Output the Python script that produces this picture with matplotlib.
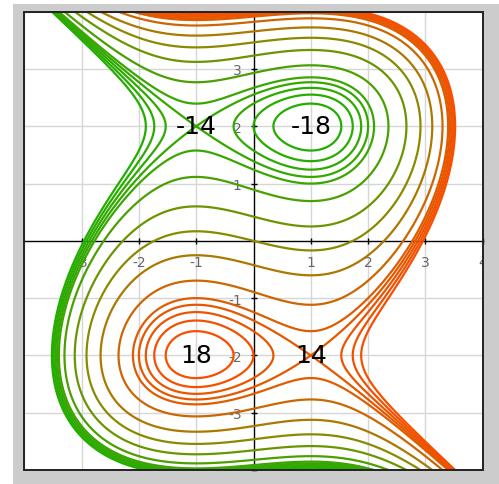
import matplotlib
matplotlib.use("Agg")
import matplotlib.pyplot as plt
from matplotlib.colors import LinearSegmentedColormap, Normalize
from matplotlib.patches import Rectangle
import numpy as np

plt.rcParams["axes.unicode_minus"] = False

# surface z = x^3 - 3x + y^3 - 12y, contour levels
x_lim = [-4, 4]
y_lim = [-4, 4]
levels = [-17, -16, -15, -14, -13, -10, -5, 0, 5, 10, 13, 14, 15, 16, 17]
x_ticks = [-3, -2, -1, 1, 2, 3, 4]
y_ticks = [-4, -3, -2, -1, 1, 2, 3, 4]

# critical points and their values
crit_x = [-1, 1, -1, 1]
crit_y = [2, 2, -2, -2]
crit_labels = ["-14", "-18", "18", "14"]


def surface(x, y):
    return x**3 - 3 * x + y**3 - 12 * y


xs = np.linspace(x_lim[0], x_lim[1], 600)
ys = np.linspace(y_lim[0], y_lim[1], 600)
X, Y = np.meshgrid(xs, ys)
Z = surface(X, Y)

cmap = LinearSegmentedColormap.from_list("gr", ["#1cb000", "#8a8a00", "#ff4a00"])
norm = Normalize(-18, 18)
line_colors = [cmap(norm(v)) for v in levels]

fig = plt.figure(figsize=(4.99, 4.85), dpi=100)
fig.patches.append(Rectangle((13 / 499, 0), 1, 480 / 485, transform=fig.transFigure,
                             facecolor="#cccccc", edgecolor="none", zorder=-10))
ax = fig.add_axes([24.3 / 499, 1 - 471 / 485, 458.4 / 499, 458.3 / 485])
ax.set_facecolor("white")
ax.set_axisbelow(True)

ax.contour(X, Y, Z, levels=levels, colors=line_colors, linewidths=1.6, zorder=2)

for cx, cy, lab in zip(crit_x, crit_y, crit_labels):
    ax.text(cx, cy, lab, ha="center", va="center", fontsize=18, color="black", zorder=4)

ax.set_xlim(x_lim)
ax.set_ylim(y_lim)
ax.set_xticks(x_ticks)
ax.set_yticks(y_ticks)
ax.set_xticks([-4], minor=True)
ax.grid(True, which="both", color="#d6d6d6", linewidth=1)
ax.tick_params(which="minor", length=0)

ax.spines["left"].set_position("zero")
ax.spines["bottom"].set_position("zero")
ax.spines["top"].set_visible(False)
ax.spines["right"].set_visible(False)
for s in ["left", "bottom"]:
    ax.spines[s].set_zorder(1)
    ax.spines[s].set_linewidth(1)
ax.tick_params(which="major", direction="inout", length=5, width=1, labelsize=10,
               labelcolor="#666666")
ax.tick_params(axis="x", pad=8)
ax.tick_params(axis="y", pad=6)

fig.canvas.draw()
for t in ax.get_xticklabels() + ax.get_yticklabels():
    t.set_clip_box(ax.bbox)
    t.set_clip_on(True)

ax.add_patch(Rectangle((0, 0), 1, 1, transform=ax.transAxes, fill=False,
                       edgecolor="#222222", linewidth=1.4, zorder=10, clip_on=False))

fig.savefig("out.png", dpi=100)
